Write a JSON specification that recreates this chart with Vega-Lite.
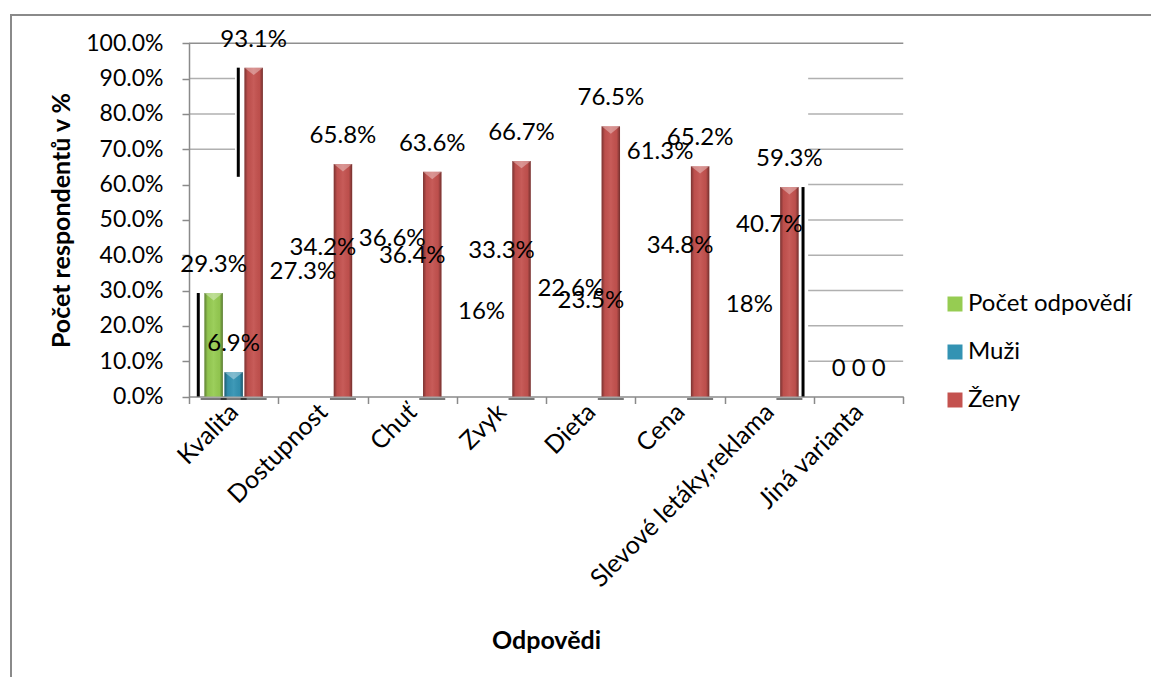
{
  "$schema": "https://vega.github.io/schema/vega-lite/v6.json",
  "width": 1145,
  "height": 667,
  "padding": {"left": 11, "top": 15, "right": -5, "bottom": -5},
  "autosize": {"type": "none"},
  "background": "#ffffff",
  "datasets": {
    "odpovedi": [
      {"kat": "Kvalita", "serie": "Počet odpovědí", "v": 29.3},
      {"kat": "Kvalita", "serie": "Muži", "v": 6.9},
      {"kat": "Kvalita", "serie": "Ženy", "v": 93.1},
      {"kat": "Dostupnost", "serie": "Počet odpovědí", "v": 27.3},
      {"kat": "Dostupnost", "serie": "Muži", "v": 34.2},
      {"kat": "Dostupnost", "serie": "Ženy", "v": 65.8},
      {"kat": "Chuť", "serie": "Počet odpovědí", "v": 36.6},
      {"kat": "Chuť", "serie": "Muži", "v": 36.4},
      {"kat": "Chuť", "serie": "Ženy", "v": 63.6},
      {"kat": "Zvyk", "serie": "Počet odpovědí", "v": 16},
      {"kat": "Zvyk", "serie": "Muži", "v": 33.3},
      {"kat": "Zvyk", "serie": "Ženy", "v": 66.7},
      {"kat": "Dieta", "serie": "Počet odpovědí", "v": 22.6},
      {"kat": "Dieta", "serie": "Muži", "v": 23.5},
      {"kat": "Dieta", "serie": "Ženy", "v": 76.5},
      {"kat": "Cena", "serie": "Počet odpovědí", "v": 61.3},
      {"kat": "Cena", "serie": "Muži", "v": 34.8},
      {"kat": "Cena", "serie": "Ženy", "v": 65.2},
      {"kat": "Slevové letáky,reklama", "serie": "Počet odpovědí", "v": 18},
      {"kat": "Slevové letáky,reklama", "serie": "Muži", "v": 40.7},
      {"kat": "Slevové letáky,reklama", "serie": "Ženy", "v": 59.3},
      {"kat": "Jiná varianta", "serie": "Počet odpovědí", "v": 0},
      {"kat": "Jiná varianta", "serie": "Muži", "v": 0},
      {"kat": "Jiná varianta", "serie": "Ženy", "v": 0}
    ],
    "stiny": [
      {"kat": "Kvalita", "serie": "Počet odpovědí", "v": 0, "v2": 29.3},
      {"kat": "Kvalita", "serie": "Ženy", "v": 62.2, "v2": 93.1},
      {"kat": "Slevové letáky,reklama", "serie": "Ženy", "v": 0, "v2": 59.3}
    ],
    "mrizkaJina": [
      {"v": 10}, {"v": 20}, {"v": 30}, {"v": 40}, {"v": 50},
      {"v": 60}, {"v": 70}, {"v": 80}, {"v": 90}
    ],
    "mrizkaKvalita": [
      {"v": 70}, {"v": 80}, {"v": 90}
    ]
  },
  "layer": [
    {
      "data": {"name": "mrizkaJina"},
      "mark": {"type": "tick", "size": 95, "thickness": 1.5, "color": "#8f8f8f", "xOffset": -3},
      "encoding": {
        "x": {"datum": "Jiná varianta", "type": "nominal"},
        "y": {"field": "v", "type": "quantitative"}
      }
    },
    {
      "data": {"name": "mrizkaKvalita"},
      "mark": {"type": "tick", "size": 46, "thickness": 1.5, "color": "#8f8f8f", "xOffset": -21.6},
      "encoding": {
        "x": {"datum": "Kvalita", "type": "nominal"},
        "y": {"field": "v", "type": "quantitative"}
      }
    },
    {
      "data": {"values": [{}]},
      "mark": {"type": "rule", "color": "#8f8f8f", "strokeWidth": 1.5},
      "encoding": {
        "x": {"datum": "Kvalita", "type": "nominal", "bandPosition": 0},
        "x2": {"datum": "Jiná varianta", "bandPosition": 1},
        "y": {"datum": 100, "type": "quantitative"}
      }
    },
    {
      "data": {"name": "odpovedi"},
      "transform": [{"filter": "datum.serie == 'Ženy' || datum.kat == 'Kvalita'"}],
      "mark": {"type": "bar"},
      "encoding": {
        "x": {
          "field": "kat",
          "type": "nominal",
          "scale": {
            "domain": ["Kvalita", "Dostupnost", "Chuť", "Zvyk", "Dieta", "Cena", "Slevové letáky,reklama", "Jiná varianta"],
            "range": [178, 892.3],
            "paddingInner": 0,
            "paddingOuter": 0
          },
          "axis": {
            "title": "Odpovědi",
            "offset": -285.5,
            "tickBand": "extent",
            "labelAngle": -45,
            "labelAlign": "right",
            "labelBaseline": "middle",
            "labelFontSize": 25,
            "labelPadding": 4,
            "labelLimit": 400,
            "labelOverlap": false,
            "titleFontSize": 25,
            "titleX": 535,
            "titleY": 243.5,
            "titleAlign": "center",
            "titleBaseline": "middle"
          }
        },
        "xOffset": {
          "field": "serie",
          "type": "nominal",
          "scale": {"domain": ["Počet odpovědí", "Muži", "Ženy"], "paddingInner": 0.08, "paddingOuter": 0.77}
        },
        "y": {
          "field": "v",
          "type": "quantitative",
          "scale": {"domain": [0, 100], "range": [381.5, 28.3], "nice": false},
          "axis": {
            "title": "Počet respondentů v %",
            "offset": -178,
            "values": [0, 10, 20, 30, 40, 50, 60, 70, 80, 90, 100],
            "labelExpr": "format(datum.value, '.1f') + '%'",
            "labelPadding": 19,
            "titleFontSize": 25,
            "titleX": -127.5,
            "titleY": 205,
            "titleAngle": -90,
            "titleAlign": "center",
            "titleBaseline": "middle"
          }
        },
        "color": {
          "field": "serie",
          "type": "nominal",
          "scale": {"domain": ["Počet odpovědí", "Muži", "Ženy"], "range": ["#96cc52", "#3393b3", "#c4524f"]},
          "legend": {
            "title": null,
            "orient": "none",
            "legendX": 932,
            "legendY": 277,
            "symbolType": "square",
            "symbolSize": 225,
            "symbolStrokeWidth": 0,
            "labelFontSize": 24,
            "labelFont": "Lato",
            "labelColor": "#000000",
            "labelOffset": 1,
            "labelLimit": 300,
            "rowPadding": 24,
            "padding": 0
          }
        }
      }
    },
    {
      "data": {"name": "odpovedi"},
      "transform": [{"filter": "datum.serie == 'Ženy' || datum.kat == 'Kvalita'"}],
      "mark": {
        "type": "bar",
        "fill": {
          "gradient": "linear", "x1": 0, "x2": 1, "y1": 0, "y2": 0,
          "stops": [
            {"offset": 0, "color": "rgba(0,0,0,0.38)"},
            {"offset": 0.18, "color": "rgba(0,0,0,0.04)"},
            {"offset": 0.5, "color": "rgba(255,255,255,0.06)"},
            {"offset": 0.82, "color": "rgba(0,0,0,0.04)"},
            {"offset": 1, "color": "rgba(0,0,0,0.42)"}
          ]
        }
      },
      "encoding": {
        "x": {"field": "kat", "type": "nominal"},
        "xOffset": {"field": "serie", "type": "nominal"},
        "y": {"field": "v", "type": "quantitative"}
      }
    },
    {
      "data": {"name": "odpovedi"},
      "transform": [{"filter": "(datum.serie == 'Ženy' || datum.kat == 'Kvalita') && datum.v > 0"}],
      "mark": {"type": "point", "shape": "M-1,0L1,0L0,0.8Z", "size": 340, "filled": true, "fill": "#ffffff", "fillOpacity": 0.35, "strokeWidth": 0},
      "encoding": {
        "x": {"field": "kat", "type": "nominal"},
        "xOffset": {"field": "serie", "type": "nominal"},
        "y": {"field": "v", "type": "quantitative"}
      }
    },
    {
      "data": {"name": "odpovedi"},
      "transform": [{"filter": "(datum.serie == 'Ženy' || datum.kat == 'Kvalita') && datum.v > 0"}],
      "mark": {"type": "tick", "size": 26, "thickness": 1.5, "color": "#000000", "yOffset": 2.5, "xOffset": 1},
      "encoding": {
        "x": {"field": "kat", "type": "nominal"},
        "xOffset": {"field": "serie", "type": "nominal"},
        "y": {"datum": 0, "type": "quantitative"}
      }
    },
    {
      "data": {"name": "stiny"},
      "transform": [{"filter": "datum.kat == 'Kvalita' && datum.serie == 'Počet odpovědí'"}],
      "mark": {"type": "rule", "color": "#000000", "strokeWidth": 3},
      "encoding": {
        "x": {"field": "kat", "type": "nominal", "bandPosition": 0.104},
        "y": {"field": "v", "type": "quantitative"},
        "y2": {"field": "v2"}
      }
    },
    {
      "data": {"name": "stiny"},
      "transform": [{"filter": "datum.kat == 'Kvalita' && datum.serie == 'Ženy'"}],
      "mark": {"type": "rule", "color": "#000000", "strokeWidth": 3},
      "encoding": {
        "x": {"field": "kat", "type": "nominal", "bandPosition": 0.552},
        "y": {"field": "v", "type": "quantitative"},
        "y2": {"field": "v2"}
      }
    },
    {
      "data": {"name": "stiny"},
      "transform": [{"filter": "datum.kat == 'Slevové letáky,reklama'"}],
      "mark": {"type": "rule", "color": "#000000", "strokeWidth": 3},
      "encoding": {
        "x": {"field": "kat", "type": "nominal", "bandPosition": 0.877},
        "y": {"field": "v", "type": "quantitative"},
        "y2": {"field": "v2"}
      }
    },
    {
      "data": {"name": "odpovedi"},
      "transform": [
        {"filter": "!(datum.serie == 'Muži' && (datum.kat == 'Chuť' || datum.kat == 'Dieta'))"},
        {"calculate": "datum.v == 0 ? '0' : (datum.v % 1 == 0 ? datum.v + '%' : format(datum.v, '.1f') + '%')", "as": "popis"}
      ],
      "mark": {"type": "text", "font": "Lato", "fontSize": 24, "color": "#000000", "baseline": "middle", "dy": -28},
      "encoding": {
        "x": {"field": "kat", "type": "nominal"},
        "xOffset": {"field": "serie", "type": "nominal"},
        "y": {"field": "v", "type": "quantitative"},
        "text": {"field": "popis"}
      }
    },
    {
      "data": {"name": "odpovedi"},
      "transform": [
        {"filter": "datum.serie == 'Muži' && (datum.kat == 'Chuť' || datum.kat == 'Dieta')"},
        {"calculate": "format(datum.v, '.1f') + '%'", "as": "popis"}
      ],
      "mark": {"type": "text", "font": "Lato", "fontSize": 24, "color": "#000000", "baseline": "middle", "dy": -12},
      "encoding": {
        "x": {"field": "kat", "type": "nominal"},
        "xOffset": {"field": "serie", "type": "nominal"},
        "y": {"field": "v", "type": "quantitative"},
        "text": {"field": "popis"}
      }
    }
  ],
  "config": {
    "font": "Lato",
    "view": {"stroke": "#8a8a8a", "strokeWidth": 2},
    "axis": {
      "grid": false,
      "domainColor": "#8a8a8a",
      "domainWidth": 1.5,
      "tickColor": "#8a8a8a",
      "tickWidth": 1.5,
      "tickSize": 7,
      "labelFont": "Lato",
      "labelFontSize": 23,
      "labelColor": "#000000",
      "titleFont": "Lato",
      "titleFontSize": 24,
      "titleFontWeight": "bold",
      "titleColor": "#000000"
    }
  }
}
